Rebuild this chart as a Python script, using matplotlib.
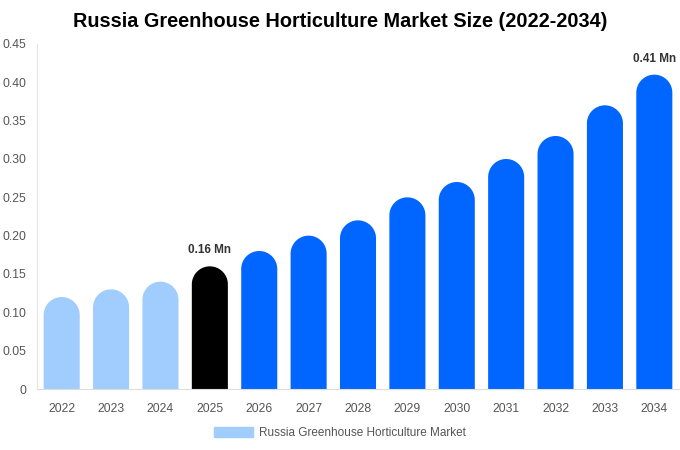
import numpy as np
import matplotlib
matplotlib.use('Agg')
import matplotlib.pyplot as plt
from matplotlib.patches import Patch
from matplotlib.ticker import FuncFormatter

years = ['2022', '2023', '2024', '2025', '2026', '2027', '2028',
         '2029', '2030', '2031', '2032', '2033', '2034']
values = [0.12, 0.13, 0.14, 0.16, 0.18, 0.20, 0.22, 0.25, 0.27, 0.30, 0.33, 0.37, 0.41]
labels = {3: '0.16 Mn', 12: '0.41 Mn'}
light, dark, hist = '#a0cdfd', '#0066ff', '#000000'
colors = [light]*3 + [hist] + [dark]*9

plt.rcParams['font.family'] = ['Liberation Sans', 'DejaVu Sans']
fig = plt.figure(figsize=(6.8, 4.5), dpi=100)
ax = fig.add_axes([37/680, 61/450, 643/680, 345/450])
ax.set_xlim(-0.5, 12.52)
ax.set_ylim(0, 0.45)

w = 0.73
# cap radius in y units so the top looks round on screen
px_per_x = 643 / 13.02
px_per_y = 345 / 0.45
ry = (w/2*px_per_x) / px_per_y
t = np.linspace(np.pi, 0, 40)
for i, (v, c) in enumerate(zip(values, colors)):
    xs = np.concatenate([[i - w/2], i + w/2*np.cos(t), [i + w/2]])
    ys = np.concatenate([[0], v - ry + ry*np.sin(t), [0]])
    ax.fill(xs, ys, color=c, linewidth=0)
    if i in labels:
        ax.text(i, v+0.013, labels[i], ha='center', va='bottom',
                fontsize=8.5, fontweight='bold', color='#333333')

ax.set_xticks(range(len(years)))
ax.set_xticklabels(years)
ax.set_yticks([0, 0.05, 0.1, 0.15, 0.2, 0.25, 0.3, 0.35, 0.4, 0.45])
ax.yaxis.set_major_formatter(FuncFormatter(lambda v, p: '0' if v == 0 else '%.2f' % v))
ax.tick_params(length=0, labelsize=8.7, labelcolor='#555555')
ax.tick_params(axis='x', pad=10)
ax.tick_params(axis='y', pad=8)
for s in ['top', 'right']:
    ax.spines[s].set_visible(False)
ax.spines['left'].set_color('#e6e6e6')
ax.spines['bottom'].set_color('#dddddd')

fig.suptitle('Russia Greenhouse Horticulture Market Size (2022-2034)',
             x=0.5, y=0.973, fontsize=14.3, fontweight='bold', color='#000000')
fig.legend(handles=[Patch(color=light, label='Russia Greenhouse Horticulture Market')],
           loc='center', bbox_to_anchor=(0.5, 1-433/450), frameon=False,
           fontsize=8.5, labelcolor='#555555', handlelength=3.3, handleheight=1.0,
           handletextpad=0.5)
fig.savefig('out.png', dpi=100)
